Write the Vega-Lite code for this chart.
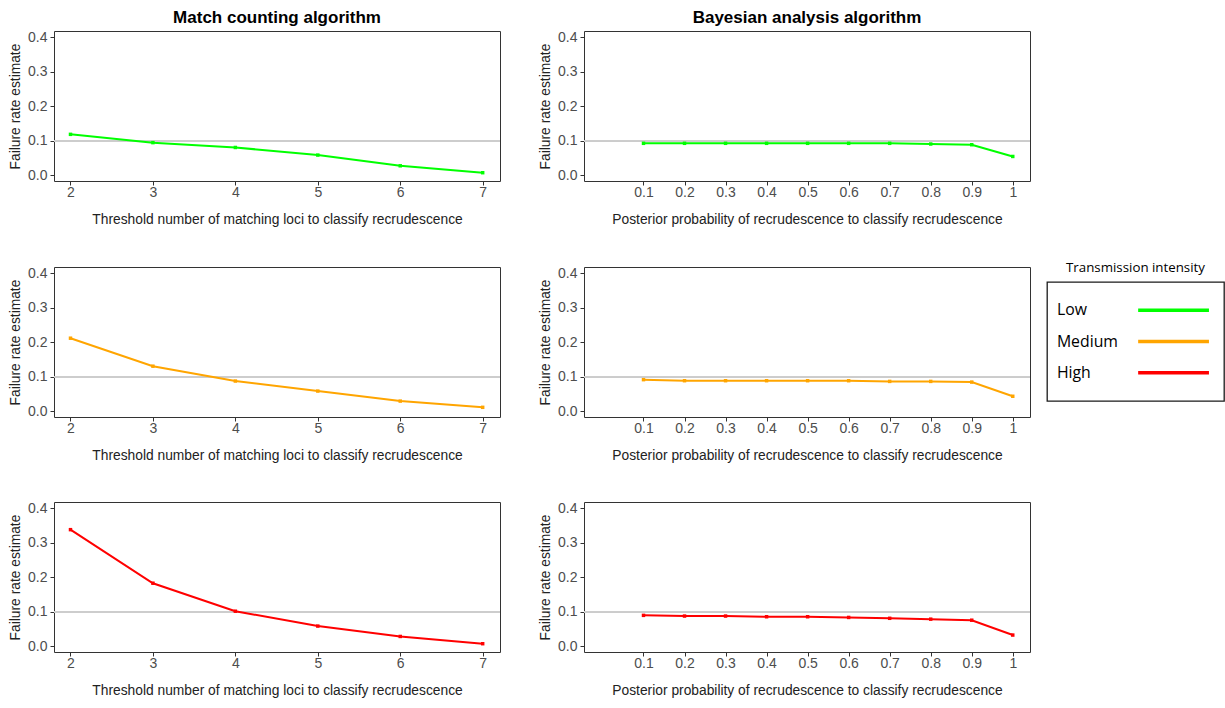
{
  "$schema": "https://vega.github.io/schema/vega-lite/v6.json",
  "padding": {"left": 8, "top": 8, "right": 0, "bottom": 0},
  "background": "white",
  "datasets": {
    "d": [
      {"algorithm": "Match", "intensity": "Low", "threshold": 2, "failure_rate": 0.119},
      {"algorithm": "Match", "intensity": "Low", "threshold": 3, "failure_rate": 0.095},
      {"algorithm": "Match", "intensity": "Low", "threshold": 4, "failure_rate": 0.081},
      {"algorithm": "Match", "intensity": "Low", "threshold": 5, "failure_rate": 0.059},
      {"algorithm": "Match", "intensity": "Low", "threshold": 6, "failure_rate": 0.028},
      {"algorithm": "Match", "intensity": "Low", "threshold": 7, "failure_rate": 0.008},
      {"algorithm": "Match", "intensity": "Medium", "threshold": 2, "failure_rate": 0.212},
      {"algorithm": "Match", "intensity": "Medium", "threshold": 3, "failure_rate": 0.131},
      {"algorithm": "Match", "intensity": "Medium", "threshold": 4, "failure_rate": 0.088},
      {"algorithm": "Match", "intensity": "Medium", "threshold": 5, "failure_rate": 0.059},
      {"algorithm": "Match", "intensity": "Medium", "threshold": 6, "failure_rate": 0.030},
      {"algorithm": "Match", "intensity": "Medium", "threshold": 7, "failure_rate": 0.012},
      {"algorithm": "Match", "intensity": "High", "threshold": 2, "failure_rate": 0.338},
      {"algorithm": "Match", "intensity": "High", "threshold": 3, "failure_rate": 0.183},
      {"algorithm": "Match", "intensity": "High", "threshold": 4, "failure_rate": 0.102},
      {"algorithm": "Match", "intensity": "High", "threshold": 5, "failure_rate": 0.059},
      {"algorithm": "Match", "intensity": "High", "threshold": 6, "failure_rate": 0.029},
      {"algorithm": "Match", "intensity": "High", "threshold": 7, "failure_rate": 0.008},
      {"algorithm": "Bayes", "intensity": "Low", "threshold": 0.1, "failure_rate": 0.093},
      {"algorithm": "Bayes", "intensity": "Low", "threshold": 0.2, "failure_rate": 0.093},
      {"algorithm": "Bayes", "intensity": "Low", "threshold": 0.3, "failure_rate": 0.093},
      {"algorithm": "Bayes", "intensity": "Low", "threshold": 0.4, "failure_rate": 0.093},
      {"algorithm": "Bayes", "intensity": "Low", "threshold": 0.5, "failure_rate": 0.093},
      {"algorithm": "Bayes", "intensity": "Low", "threshold": 0.6, "failure_rate": 0.093},
      {"algorithm": "Bayes", "intensity": "Low", "threshold": 0.7, "failure_rate": 0.093},
      {"algorithm": "Bayes", "intensity": "Low", "threshold": 0.8, "failure_rate": 0.091},
      {"algorithm": "Bayes", "intensity": "Low", "threshold": 0.9, "failure_rate": 0.089},
      {"algorithm": "Bayes", "intensity": "Low", "threshold": 1.0, "failure_rate": 0.055},
      {"algorithm": "Bayes", "intensity": "Medium", "threshold": 0.1, "failure_rate": 0.092},
      {"algorithm": "Bayes", "intensity": "Medium", "threshold": 0.2, "failure_rate": 0.089},
      {"algorithm": "Bayes", "intensity": "Medium", "threshold": 0.3, "failure_rate": 0.089},
      {"algorithm": "Bayes", "intensity": "Medium", "threshold": 0.4, "failure_rate": 0.089},
      {"algorithm": "Bayes", "intensity": "Medium", "threshold": 0.5, "failure_rate": 0.089},
      {"algorithm": "Bayes", "intensity": "Medium", "threshold": 0.6, "failure_rate": 0.089},
      {"algorithm": "Bayes", "intensity": "Medium", "threshold": 0.7, "failure_rate": 0.087},
      {"algorithm": "Bayes", "intensity": "Medium", "threshold": 0.8, "failure_rate": 0.087},
      {"algorithm": "Bayes", "intensity": "Medium", "threshold": 0.9, "failure_rate": 0.085},
      {"algorithm": "Bayes", "intensity": "Medium", "threshold": 1.0, "failure_rate": 0.044},
      {"algorithm": "Bayes", "intensity": "High", "threshold": 0.1, "failure_rate": 0.090},
      {"algorithm": "Bayes", "intensity": "High", "threshold": 0.2, "failure_rate": 0.088},
      {"algorithm": "Bayes", "intensity": "High", "threshold": 0.3, "failure_rate": 0.088},
      {"algorithm": "Bayes", "intensity": "High", "threshold": 0.4, "failure_rate": 0.086},
      {"algorithm": "Bayes", "intensity": "High", "threshold": 0.5, "failure_rate": 0.086},
      {"algorithm": "Bayes", "intensity": "High", "threshold": 0.6, "failure_rate": 0.084},
      {"algorithm": "Bayes", "intensity": "High", "threshold": 0.7, "failure_rate": 0.0815},
      {"algorithm": "Bayes", "intensity": "High", "threshold": 0.8, "failure_rate": 0.079},
      {"algorithm": "Bayes", "intensity": "High", "threshold": 0.9, "failure_rate": 0.076},
      {"algorithm": "Bayes", "intensity": "High", "threshold": 1.0, "failure_rate": 0.033}
    ],
    "legendTitle": [{"label": "Transmission intensity"}]
  },
  "config": {
    "font": "Liberation Sans",
    "view": {"stroke": "#333333", "strokeWidth": 1},
    "axis": {"grid": false, "domain": false, "labelOverlap": false, "tickColor": "#333333", "tickSize": 4, "labelFontSize": 14, "labelColor": "#4D4D4D", "titleFontSize": 13.8, "titleFontWeight": "normal", "titleColor": "#222222"},
    "axisX": {"labelPadding": 0.5, "titlePadding": 13},
    "axisY": {"labelPadding": 3, "titlePadding": 5},
    "title": {"fontSize": 17, "fontWeight": "bold", "color": "#000000", "frame": "group", "anchor": "middle", "offset": 3}
  },
  "vconcat": [
    {
      "hconcat": [
        {
          "title": "Match counting algorithm",
          "width": 446, "height": 150,
          "data": {"name": "d"},
          "transform": [{"filter": "datum.algorithm == 'Match' && datum.intensity == 'Low'"}],
          "layer": [
            {"mark": {"type": "rule", "color": "#CCCCCC", "strokeWidth": 1}, "encoding": {"y": {"datum": 0.1, "type": "quantitative", "scale": {"domain": [-0.016, 0.418], "nice": false, "zero": false}, "axis": {"values": [0,0.1,0.2,0.3,0.4], "format": ".1f", "title": "Failure rate estimate"}}}},
            {"mark": {"type": "line", "strokeWidth": 2, "point": {"shape": "square", "size": 12, "filled": true}},
             "encoding": {
               "x": {"field": "threshold", "type": "quantitative", "scale": {"domain": [1.8, 7.21], "nice": false, "zero": false}, "axis": {"values": [2,3,4,5,6,7], "title": "Threshold number of matching loci to classify recrudescence"}},
               "y": {"field": "failure_rate", "type": "quantitative", "scale": {"domain": [-0.016, 0.418], "nice": false, "zero": false}, "axis": {"values": [0,0.1,0.2,0.3,0.4], "format": ".1f", "title": "Failure rate estimate"}},
               "color": {"field": "intensity", "type": "nominal", "scale": {"domain": ["Low","Medium","High"], "range": ["#00FF00","#FFA500","#FF0000"]}, "legend": null}
             }}
          ]
        },
        {
          "title": "Bayesian analysis algorithm",
          "width": 446, "height": 150,
          "data": {"name": "d"},
          "transform": [{"filter": "datum.algorithm == 'Bayes' && datum.intensity == 'Low'"}],
          "layer": [
            {"mark": {"type": "rule", "color": "#CCCCCC", "strokeWidth": 1}, "encoding": {"y": {"datum": 0.1, "type": "quantitative", "scale": {"domain": [-0.016, 0.418], "nice": false, "zero": false}, "axis": {"values": [0,0.1,0.2,0.3,0.4], "format": ".1f", "title": "Failure rate estimate"}}}},
            {"mark": {"type": "line", "strokeWidth": 2, "point": {"shape": "square", "size": 12, "filled": true}},
             "encoding": {
               "x": {"field": "threshold", "type": "quantitative", "scale": {"domain": [-0.045, 1.042], "nice": false, "zero": false}, "axis": {"values": [0.1,0.2,0.3,0.4,0.5,0.6,0.7,0.8,0.9,1], "labelExpr": "datum.value == 1 ? '1' : format(datum.value, '.1f')", "title": "Posterior probability of recrudescence to classify recrudescence"}},
               "y": {"field": "failure_rate", "type": "quantitative", "scale": {"domain": [-0.016, 0.418], "nice": false, "zero": false}, "axis": {"values": [0,0.1,0.2,0.3,0.4], "format": ".1f", "title": "Failure rate estimate"}},
               "color": {"field": "intensity", "type": "nominal", "scale": {"domain": ["Low","Medium","High"], "range": ["#00FF00","#FFA500","#FF0000"]}, "legend": null}
             }}
          ]
        }
      ],
      "spacing": 37
    },
    {
      "vconcat": [
        {
          "hconcat": [
            {
              "width": 446, "height": 150,
              "data": {"name": "d"},
              "transform": [{"filter": "datum.algorithm == 'Match' && datum.intensity == 'Medium'"}],
              "layer": [
                {"mark": {"type": "rule", "color": "#CCCCCC", "strokeWidth": 1}, "encoding": {"y": {"datum": 0.1, "type": "quantitative", "scale": {"domain": [-0.016, 0.418], "nice": false, "zero": false}, "axis": {"values": [0,0.1,0.2,0.3,0.4], "format": ".1f", "title": "Failure rate estimate"}}}},
                {"mark": {"type": "line", "strokeWidth": 2, "point": {"shape": "square", "size": 12, "filled": true}},
                 "encoding": {
                   "x": {"field": "threshold", "type": "quantitative", "scale": {"domain": [1.8, 7.21], "nice": false, "zero": false}, "axis": {"values": [2,3,4,5,6,7], "title": "Threshold number of matching loci to classify recrudescence"}},
                   "y": {"field": "failure_rate", "type": "quantitative", "scale": {"domain": [-0.016, 0.418], "nice": false, "zero": false}, "axis": {"values": [0,0.1,0.2,0.3,0.4], "format": ".1f", "title": "Failure rate estimate"}},
                   "color": {"field": "intensity", "type": "nominal", "scale": {"domain": ["Low","Medium","High"], "range": ["#00FF00","#FFA500","#FF0000"]}, "legend": null}
                 }}
              ]
            },
            {
              "hconcat": [
                {
                  "width": 446, "height": 150,
                  "data": {"name": "d"},
                  "transform": [{"filter": "datum.algorithm == 'Bayes' && datum.intensity == 'Medium'"}],
                  "layer": [
                    {"mark": {"type": "rule", "color": "#CCCCCC", "strokeWidth": 1}, "encoding": {"y": {"datum": 0.1, "type": "quantitative", "scale": {"domain": [-0.016, 0.418], "nice": false, "zero": false}, "axis": {"values": [0,0.1,0.2,0.3,0.4], "format": ".1f", "title": "Failure rate estimate"}}}},
                    {"mark": {"type": "line", "strokeWidth": 2, "point": {"shape": "square", "size": 12, "filled": true}},
                     "encoding": {
                       "x": {"field": "threshold", "type": "quantitative", "scale": {"domain": [-0.045, 1.042], "nice": false, "zero": false}, "axis": {"values": [0.1,0.2,0.3,0.4,0.5,0.6,0.7,0.8,0.9,1], "labelExpr": "datum.value == 1 ? '1' : format(datum.value, '.1f')", "title": "Posterior probability of recrudescence to classify recrudescence"}},
                       "y": {"field": "failure_rate", "type": "quantitative", "scale": {"domain": [-0.016, 0.418], "nice": false, "zero": false}, "axis": {"values": [0,0.1,0.2,0.3,0.4], "format": ".1f", "title": "Failure rate estimate"}},
                       "color": {"field": "intensity", "type": "nominal", "scale": {"domain": ["Low","Medium","High"], "range": ["#00FF00","#FFA500","#FF0000"]}, "legend": null}
                     }}
                  ]
                },
                {
                  "bounds": "flush",
                  "spacing": 13,
                  "vconcat": [
                    {
                      "width": 177, "height": 2,
                      "view": {"stroke": null},
                      "data": {"name": "legendTitle"},
                      "mark": {"type": "text", "align": "center", "baseline": "middle", "font": "Open Sans", "fontSize": 13.3, "color": "#000000"},
                      "encoding": {"text": {"field": "label"}}
                    },
                    {
                      "width": 177, "height": 119,
                      "view": {"stroke": "#1A1A1A", "strokeWidth": 1.3},
                      "data": {"name": "d"},
                      "transform": [{"filter": "datum.algorithm == 'Match' && datum.threshold == 2"}],
                      "layer": [
                        {"mark": {"type": "text", "align": "left", "baseline": "middle", "font": "Open Sans", "fontSize": 15.8, "color": "#000000"},
                         "encoding": {
                           "x": {"datum": 0.056, "type": "quantitative", "scale": {"domain": [0, 1], "nice": false, "zero": false}, "axis": null},
                           "y": {"field": "intensity", "type": "nominal", "scale": {"type": "point", "domain": ["Low","Medium","High"], "padding": 0.9}, "axis": null},
                           "text": {"field": "intensity"}
                         }},
                        {"mark": {"type": "rule", "strokeWidth": 3.5},
                         "encoding": {
                           "x": {"datum": 0.515, "type": "quantitative", "scale": {"domain": [0, 1], "nice": false, "zero": false}, "axis": null},
                           "x2": {"datum": 0.915},
                           "y": {"field": "intensity", "type": "nominal", "scale": {"type": "point", "domain": ["Low","Medium","High"], "padding": 0.9}, "axis": null},
                           "color": {"field": "intensity", "type": "nominal", "scale": {"domain": ["Low","Medium","High"], "range": ["#00FF00","#FFA500","#FF0000"]}, "legend": null}
                         }}
                      ]
                    }
                  ]
                }
              ],
              "spacing": 15
            }
          ],
          "spacing": 37
        },
        {
          "hconcat": [
            {
              "width": 446, "height": 150,
              "data": {"name": "d"},
              "transform": [{"filter": "datum.algorithm == 'Match' && datum.intensity == 'High'"}],
              "layer": [
                {"mark": {"type": "rule", "color": "#CCCCCC", "strokeWidth": 1}, "encoding": {"y": {"datum": 0.1, "type": "quantitative", "scale": {"domain": [-0.016, 0.418], "nice": false, "zero": false}, "axis": {"values": [0,0.1,0.2,0.3,0.4], "format": ".1f", "title": "Failure rate estimate"}}}},
                {"mark": {"type": "line", "strokeWidth": 2, "point": {"shape": "square", "size": 12, "filled": true}},
                 "encoding": {
                   "x": {"field": "threshold", "type": "quantitative", "scale": {"domain": [1.8, 7.21], "nice": false, "zero": false}, "axis": {"values": [2,3,4,5,6,7], "title": "Threshold number of matching loci to classify recrudescence"}},
                   "y": {"field": "failure_rate", "type": "quantitative", "scale": {"domain": [-0.016, 0.418], "nice": false, "zero": false}, "axis": {"values": [0,0.1,0.2,0.3,0.4], "format": ".1f", "title": "Failure rate estimate"}},
                   "color": {"field": "intensity", "type": "nominal", "scale": {"domain": ["Low","Medium","High"], "range": ["#00FF00","#FFA500","#FF0000"]}, "legend": null}
                 }}
              ]
            },
            {
              "width": 446, "height": 150,
              "data": {"name": "d"},
              "transform": [{"filter": "datum.algorithm == 'Bayes' && datum.intensity == 'High'"}],
              "layer": [
                {"mark": {"type": "rule", "color": "#CCCCCC", "strokeWidth": 1}, "encoding": {"y": {"datum": 0.1, "type": "quantitative", "scale": {"domain": [-0.016, 0.418], "nice": false, "zero": false}, "axis": {"values": [0,0.1,0.2,0.3,0.4], "format": ".1f", "title": "Failure rate estimate"}}}},
                {"mark": {"type": "line", "strokeWidth": 2, "point": {"shape": "square", "size": 12, "filled": true}},
                 "encoding": {
                   "x": {"field": "threshold", "type": "quantitative", "scale": {"domain": [-0.045, 1.042], "nice": false, "zero": false}, "axis": {"values": [0.1,0.2,0.3,0.4,0.5,0.6,0.7,0.8,0.9,1], "labelExpr": "datum.value == 1 ? '1' : format(datum.value, '.1f')", "title": "Posterior probability of recrudescence to classify recrudescence"}},
                   "y": {"field": "failure_rate", "type": "quantitative", "scale": {"domain": [-0.016, 0.418], "nice": false, "zero": false}, "axis": {"values": [0,0.1,0.2,0.3,0.4], "format": ".1f", "title": "Failure rate estimate"}},
                   "color": {"field": "intensity", "type": "nominal", "scale": {"domain": ["Low","Medium","High"], "range": ["#00FF00","#FFA500","#FF0000"]}, "legend": null}
                 }}
              ]
            }
          ],
          "spacing": 37
        }
      ],
      "spacing": 37
    }
  ],
  "spacing": 34
}
